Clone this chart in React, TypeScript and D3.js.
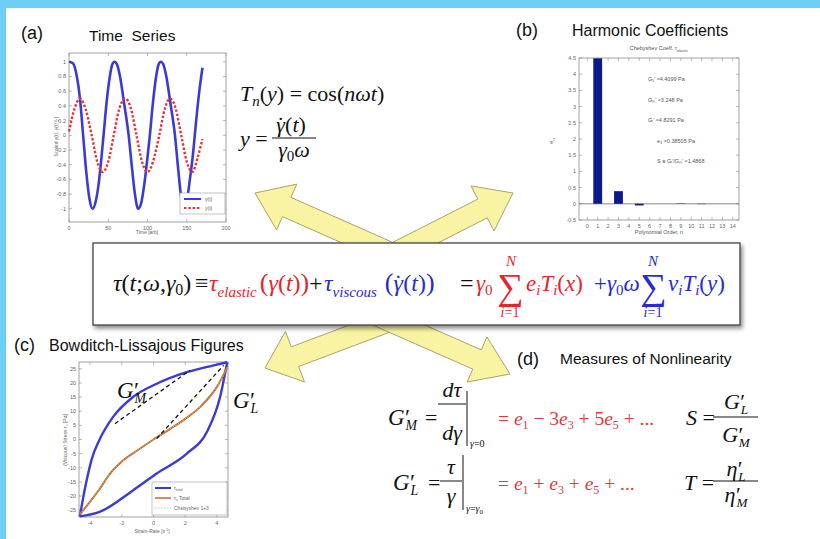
import React from "react";
import * as d3 from "d3";

const W = 820;
const H = 539;
const SANS = "Liberation Sans, Arial, sans-serif";
const SERIF = "Liberation Serif, Times New Roman, serif";
const BLUE = "#3b3bd4";
const RED = "#e0393b";
const ORANGE = "#cc6428";
const FRED = "#e4262c";
const FBLUE = "#2a2ad0";

// (a) time series
const timeTicks = [0, 50, 100, 150, 200];
const scaledTicks = [-1, -0.8, -0.6, -0.4, -0.2, 0, 0.2, 0.4, 0.6, 0.8, 1];
const gammaSeries: [number, number][] = [
  [0, 1], [5, 0.98], [10, 0.8], [14, 0.5], [18, 0], [22, -0.5], [26, -0.86], [30, -1],
  [34, -0.9], [38, -0.64], [41, -0.34], [44, 0], [48, 0.46], [52, 0.8], [55, 0.96], [58, 1],
  [61, 0.97], [65, 0.8], [70, 0.45], [76, 0], [80, -0.42], [84, -0.8], [88, -1], [92, -0.92],
  [96, -0.66], [100, -0.3], [103, 0], [107, 0.45], [111, 0.8], [114, 0.96], [117, 1], [120, 0.97],
  [124, 0.8], [129, 0.45], [135, 0], [139, -0.45], [143, -0.85], [146, -1], [150, -0.9],
  [154, -0.6], [158, -0.25], [162, 0.2], [166, 0.6], [170, 0.92],
];
const ySeries: [number, number][] = [
  [0, 0.05], [7, 0.36], [14, 0.5], [21, 0.36], [29, 0], [36, -0.36], [43, -0.5], [50, -0.36],
  [57, 0], [64, 0.36], [72, 0.5], [79, 0.36], [86, 0], [93, -0.36], [100, -0.5], [107, -0.36],
  [115, 0], [122, 0.36], [129, 0.5], [136, 0.36], [143, 0], [150, -0.36], [157, -0.5],
  [164, -0.3], [170, -0.05],
];

// (b) harmonic coefficients
const orders = [0, 1, 2, 3, 4, 5, 6, 7, 8, 9, 10, 11, 12, 13, 14];
const coeffs = [0, 4.49, 0, 0.39, 0, -0.05, 0, 0, 0, 0.01, 0, -0.01, 0, 0, 0];
const coeffTicks = [-0.5, 0, 0.5, 1, 1.5, 2, 2.5, 3, 3.5, 4, 4.5];
const coeffNotes = ["G\u2081\u2032 \u22484.4099 Pa", "G\u2098\u2032 \u22483.248 Pa", "G\u2097\u2032 \u22484.8291 Pa", "e\u2083 \u22480.38505 Pa", "S \u2261 G\u2097\u2032/G\u2098\u2032 \u22481.4868"];

// (c) Lissajous
const rateTicks = [-4, -2, 0, 2, 4];
const stressTicks = [-25, -20, -15, -10, -5, 0, 5, 10, 15, 20, 25];
const loopUpper: [number, number][] = [
  [-4.65, -27.2], [-4.45, -21], [-4.2, -14], [-3.9, -7], [-3.4, 0], [-2.55, 8], [-1.3, 15],
  [0.2, 19.7], [2.1, 23.8], [3.8, 26.2], [4.65, 27.3],
];
const loopLower: [number, number][] = [
  [-4.65, -27.2], [-3.4, -25.6], [-1.3, -18], [0.2, -12], [2.1, -5], [3.4, 3], [4.2, 15], [4.65, 27.3],
];
const totalCurve: [number, number][] = [
  [-4.65, -26.5], [-4, -22], [-3.4, -17.5], [-2.8, -12.5], [-2, -7.8], [-1, -3.8], [0, 0],
  [1, 3.6], [2, 7.3], [3, 11.8], [4, 18.6], [4.65, 25.5],
];
const gmTangent: [number, number][] = [[-2.43, 5.6], [2.31, 24.5]];
const glSecant: [number, number][] = [[0.2, 0.3], [4.42, 26.2]];

const fmt = (v: number) => String(v);

function Frame({ x, y, xTicks, yTicks, fs = 6 }: any) {
  const [x0, x1] = x.range();
  const [y0, y1] = y.range();
  const c = "#8a8a8a";
  return (
    <g fontFamily={SANS} fontSize={fs} fill="#666">
      <rect x={x0} y={y1} width={x1 - x0} height={y0 - y1} fill="white" stroke={c} strokeWidth={0.8} />
      {xTicks.map((t: number) => (
        <g key={"x" + t}>
          <line x1={x(t)} x2={x(t)} y1={y0} y2={y0 - 3} stroke={c} strokeWidth={0.6} />
          <line x1={x(t)} x2={x(t)} y1={y1} y2={y1 + 3} stroke={c} strokeWidth={0.6} />
          <text x={x(t)} y={y0 + fs + 2} textAnchor="middle">{fmt(t)}</text>
        </g>
      ))}
      {yTicks.map((t: number) => (
        <g key={"y" + t}>
          <line x1={x0} x2={x0 + 3} y1={y(t)} y2={y(t)} stroke={c} strokeWidth={0.6} />
          <line x1={x1} x2={x1 - 3} y1={y(t)} y2={y(t)} stroke={c} strokeWidth={0.6} />
          <text x={x0 - 3} y={y(t) + fs * 0.35} textAnchor="end">{fmt(t)}</text>
        </g>
      ))}
    </g>
  );
}

function arrow(tip: [number, number], dir: [number, number], headLen: number, headHalf: number, shaftHalf: number, shaftLen: number) {
  const [tx, ty] = tip;
  const [dx, dy] = dir;
  const px = -dy, py = dx;
  const bx = tx + dx * headLen, by = ty + dy * headLen;
  const ex = bx + dx * shaftLen, ey = by + dy * shaftLen;
  const pts = [
    [tx, ty],
    [bx + px * headHalf, by + py * headHalf],
    [bx + px * shaftHalf, by + py * shaftHalf],
    [ex + px * shaftHalf, ey + py * shaftHalf],
    [ex - px * shaftHalf, ey - py * shaftHalf],
    [bx - px * shaftHalf, by - py * shaftHalf],
    [bx - px * headHalf, by - py * headHalf],
  ];
  return "M" + pts.map((p) => p.join(",")).join("L") + "Z";
}

// primed symbol with subscript, e.g. G'_M, as one text
function GP({ x, y, base = "G", sub, size = 22, fill = "#111", anchor = "start" }: any) {
  return (
    <text x={x} y={y} fontFamily={SERIF} fontStyle="italic" fontSize={size} fill={fill} textAnchor={anchor}>
      {base}
      <tspan fontStyle="normal" dx={size * 0.02}>{"\u2032"}</tspan>
      <tspan fontSize={size * 0.6} dx={-size * 0.2} dy={size * 0.22}>{sub}</tspan>
    </text>
  );
}

// gamma with a dot above, inside a text flow
function GammaDot({ size }: { size: number }) {
  return (
    <>
      <tspan fontStyle="italic">γ</tspan>
      <tspan fontStyle="normal" dx={-size * 0.36}>{"\u02D9"}</tspan>
      <tspan dx={size * 0.04}>(</tspan>
    </>
  );
}

export default function App() {
  // (a)
  const ax = d3.scaleLinear().domain([0, 200]).range([69, 226]);
  const ay = d3.scaleLinear().domain([-1.18, 1.12]).range([222, 53]);
  const aLine = d3.line<[number, number]>().x((d) => ax(d[0])).y((d) => ay(d[1])).curve(d3.curveMonotoneX);

  // (b)
  const bx = d3.scaleLinear().domain([-0.8, 14.6]).range([579, 739]);
  const by = d3.scaleLinear().domain([-0.5, 4.5]).range([220, 58]);
  const bw = (bx(1) - bx(0)) * 0.85;

  // (c)
  const cx = d3.scaleLinear().domain([-4.7, 4.7]).range([79, 228]);
  const cy = d3.scaleLinear().domain([-27.4, 27.4]).range([517, 362]);
  const cLine = d3.line<[number, number]>().x((d) => cx(d[0])).y((d) => cy(d[1])).curve(d3.curveMonotoneX);
  const cStraight = d3.line<[number, number]>().x((d) => cx(d[0])).y((d) => cy(d[1]));

  const arrowFill = "#f8f4a4";
  const arrowStroke = "#a9a36a";

  return (
    <svg width={W} height={H} style={{ position: "absolute", left: 0, top: 0 }} xmlns="http://www.w3.org/2000/svg">
      <defs>
        <filter id="shadow" x="-5%" y="-20%" width="110%" height="150%">
          <feDropShadow dx="2" dy="3" stdDeviation="2" floodColor="#000" floodOpacity="0.45" />
        </filter>
      </defs>
      <rect width={W} height={H} fill="#6dcff6" />
      <rect x={6} y={8} width={W - 6} height={H - 8} fill="white" />

      {/* arrows */}
      <g fill={arrowFill} stroke={arrowStroke} strokeWidth={1}>
        <path d={arrow([255, 193], [0.916, 0.405], 34.6, 25, 10.5, 110)} />
        <path d={arrow([513, 193], [-0.891, 0.453], 34.2, 25.3, 10.5, 110)} />
        <path d={arrow([265, 368], [0.936, -0.353], 32, 27, 10.5, 110)} />
        <path d={arrow([510, 374], [-0.916, -0.403], 36, 24.6, 10.5, 110)} />
      </g>

      {/* (a) */}
      <text x={21} y={39} fontFamily={SANS} fontSize={18} fill="#111">(a)</text>
      <text x={89} y={41} fontFamily={SANS} fontSize={15.5} fill="#111" style={{ whiteSpace: "pre" }}>Time  Series</text>
      <Frame x={ax} y={ay} xTicks={timeTicks} yTicks={scaledTicks} fs={5.5} />
      <path d={aLine(gammaSeries) || ""} fill="none" stroke={BLUE} strokeWidth={2.6} />
      <path d={aLine(ySeries) || ""} fill="none" stroke={RED} strokeWidth={2.4} strokeDasharray="2.5,1.8" />
      <g fontFamily={SANS} fontSize={5} fill="#666">
        <rect x={180} y={193} width={45} height={21} fill="white" stroke="#999" strokeWidth={0.6} />
        <line x1={184} x2={201} y1={199} y2={199} stroke={BLUE} strokeWidth={2} />
        <line x1={184} x2={201} y1={208} y2={208} stroke={RED} strokeWidth={2} strokeDasharray="2.5,1.8" />
        <text x={205} y={201}>γ(t)</text>
        <text x={205} y={210}>y(t)</text>
        <text x={147} y={234} textAnchor="middle">Time [arb]</text>
        <text transform="translate(58,137) rotate(-90)" textAnchor="middle">Scaled γ(t), y(t) [-]</text>
      </g>

      {/* (a) formulas */}
      <g fontFamily={SERIF} fontSize={22} fill="#111">
        <text x={240} y={101}>
          <tspan fontStyle="italic">T</tspan>
          <tspan fontStyle="italic" fontSize={15} dy={5}>n</tspan>
          <tspan dy={-5}>(</tspan>
          <tspan fontStyle="italic">y</tspan>
          <tspan>) = cos(</tspan>
          <tspan fontStyle="italic">nωt</tspan>
          <tspan>)</tspan>
        </text>
        <text x={240} y={146}>
          <tspan fontStyle="italic">y</tspan>
          <tspan> =</tspan>
        </text>
        <text x={291} y={132} textAnchor="middle">
          <GammaDot size={22} />
          <tspan fontStyle="italic">t</tspan>
          <tspan>)</tspan>
        </text>
        <line x1={272} x2={316} y1={138} y2={138} stroke="#111" strokeWidth={1} />
        <text x={294} y={157} textAnchor="middle">
          <tspan fontStyle="italic">γ</tspan>
          <tspan fontSize={15} dy={4}>0</tspan>
          <tspan fontStyle="italic" dy={-4}>ω</tspan>
        </text>
      </g>

      {/* (b) */}
      <text x={516} y={36} fontFamily={SANS} fontSize={18} fill="#111">(b)</text>
      <text x={572} y={36} fontFamily={SANS} fontSize={16} fill="#111">Harmonic Coefficients</text>
      <Frame x={bx} y={by} xTicks={orders} yTicks={coeffTicks} fs={5.5} />
      <line x1={bx(-0.8)} x2={bx(14.6)} y1={by(0)} y2={by(0)} stroke="#555" strokeWidth={0.7} />
      {orders.map((n, i) => (
        <rect key={n} x={bx(n) - bw / 2} y={by(Math.max(0, coeffs[i]))} width={bw}
          height={Math.abs(by(coeffs[i]) - by(0))} fill="#0b1a8a" />
      ))}
      <g fontFamily={SANS} fontSize={5.5} fill="#555">
        <text x={659} y={50} textAnchor="middle">Chebyshev Coeff. τ<tspan fontSize={4} dy={1.5}>elastic</tspan></text>
        <text x={659} y={234} textAnchor="middle">Polynomial Order,  n</text>
        <text transform="translate(553,141) rotate(-90)" textAnchor="middle">e<tspan fontSize={4} dy={1.5}>n</tspan></text>
        {coeffNotes.map((s, i) => (
          <text key={i} x={i < 3 ? 648 : 657} y={81 + i * 20.5}>{s}</text>
        ))}
      </g>

      {/* central formula box */}
      <rect x={93} y={243} width={647} height={82} fill="white" stroke="#444" strokeWidth={1.3} filter="url(#shadow)" />
      <text y={291} fontFamily={SERIF} fontSize={24} fill="#111">
        <tspan x={113} fontStyle="italic">τ</tspan>
        <tspan>(</tspan>
        <tspan fontStyle="italic">t</tspan>
        <tspan>;</tspan>
        <tspan fontStyle="italic">ω</tspan>
        <tspan>,</tspan>
        <tspan fontStyle="italic">γ</tspan>
        <tspan fontSize={16} dy={4}>0</tspan>
        <tspan dy={-4}>)</tspan>
        <tspan x={195}>≡</tspan>
        <tspan x={209} fill={FRED} fontStyle="italic">τ</tspan>
        <tspan fill={FRED} fontStyle="italic" fontSize={15} dy={6}>elastic</tspan>
        <tspan fill={FRED} dy={-6} dx={3} fontSize={26}>(</tspan>
        <tspan fill={FRED} fontStyle="italic">γ</tspan>
        <tspan fill={FRED}>(</tspan>
        <tspan fill={FRED} fontStyle="italic">t</tspan>
        <tspan fill={FRED}>)</tspan>
        <tspan fill={FRED} fontSize={26}>)</tspan>
        <tspan x={309}>+</tspan>
        <tspan x={324} fill={FBLUE} fontStyle="italic">τ</tspan>
        <tspan fill={FBLUE} fontStyle="italic" fontSize={15} dy={6}>viscous</tspan>
        <tspan fill={FBLUE} dy={-6} dx={8} fontSize={26}>(</tspan>
        <tspan fill={FBLUE} fontStyle="italic">γ</tspan>
        <tspan fill={FBLUE} dx={-8.6}>{"\u02D9"}</tspan>
        <tspan fill={FBLUE} dx={1}>(</tspan>
        <tspan fill={FBLUE} fontStyle="italic">t</tspan>
        <tspan fill={FBLUE}>)</tspan>
        <tspan fill={FBLUE} fontSize={26}>)</tspan>
        <tspan x={460}>=</tspan>
      </text>
      <g fontFamily={SERIF} fontSize={23}>
        <g fill={FRED}>
          <text x={476} y={291}>
            <tspan fontStyle="italic">γ</tspan>
            <tspan fontSize={15} dy={4}>0</tspan>
          </text>
          <text x={497} y={299} fontSize={37}>∑</text>
          <text x={511} y={266} fontSize={15} fontStyle="italic" textAnchor="middle">N</text>
          <text x={510} y={317} fontSize={14} textAnchor="middle"><tspan fontStyle="italic">i</tspan>=1</text>
          <text x={526} y={291}>
            <tspan fontStyle="italic">e</tspan>
            <tspan fontStyle="italic" fontSize={15} dy={4}>i</tspan>
            <tspan fontStyle="italic" dy={-4}>T</tspan>
            <tspan fontStyle="italic" fontSize={15} dy={4}>i</tspan>
            <tspan dy={-4}>(</tspan>
            <tspan fontStyle="italic">x</tspan>
            <tspan>)</tspan>
          </text>
        </g>
        <g fill={FBLUE}>
          <text x={594} y={291}>+</text>
          <text x={607} y={291}>
            <tspan fontStyle="italic">γ</tspan>
            <tspan fontSize={15} dy={4}>0</tspan>
            <tspan fontStyle="italic" dy={-4}>ω</tspan>
          </text>
          <text x={640} y={299} fontSize={37}>∑</text>
          <text x={653} y={266} fontSize={15} fontStyle="italic" textAnchor="middle">N</text>
          <text x={653} y={317} fontSize={14} textAnchor="middle"><tspan fontStyle="italic">i</tspan>=1</text>
          <text x={668} y={291}>
            <tspan fontStyle="italic">v</tspan>
            <tspan fontStyle="italic" fontSize={15} dy={4}>i</tspan>
            <tspan fontStyle="italic" dy={-4}>T</tspan>
            <tspan fontStyle="italic" fontSize={15} dy={4}>i</tspan>
            <tspan dy={-4}>(</tspan>
            <tspan fontStyle="italic">y</tspan>
            <tspan>)</tspan>
          </text>
        </g>
      </g>

      {/* (c) */}
      <text x={14} y={351} fontFamily={SANS} fontSize={18} fill="#111">(c)</text>
      <text x={49} y={351} fontFamily={SANS} fontSize={16} fill="#111">Bowditch-Lissajous Figures</text>
      <Frame x={cx} y={cy} xTicks={rateTicks} yTicks={stressTicks} fs={5.5} />
      <path d={cLine(loopUpper) || ""} fill="none" stroke={BLUE} strokeWidth={2.4} />
      <path d={cLine(loopLower) || ""} fill="none" stroke={BLUE} strokeWidth={2.4} />
      <path d={cLine(totalCurve) || ""} fill="none" stroke={ORANGE} strokeWidth={2} />
      <path d={cLine(totalCurve) || ""} fill="none" stroke="#9fe39f" strokeWidth={0.8} strokeDasharray="1.5,1.5" />
      <path d={cStraight(gmTangent) || ""} fill="none" stroke="#111" strokeWidth={1.3} strokeDasharray="4,3" />
      <path d={cStraight(glSecant) || ""} fill="none" stroke="#111" strokeWidth={1.3} strokeDasharray="4,3" />
      <GP x={117} y={398} sub="M" size={23} />
      <GP x={233} y={408} sub="L" size={23} />
      <g fontFamily={SANS} fontSize={5} fill="#666">
        <rect x={152} y={482} width={75} height={33} fill="white" stroke="#999" strokeWidth={0.6} />
        <line x1={155} x2={171} y1={488} y2={488} stroke={BLUE} strokeWidth={2} />
        <line x1={155} x2={171} y1={498} y2={498} stroke={ORANGE} strokeWidth={1.5} />
        <line x1={155} x2={171} y1={508} y2={508} stroke="#9fe39f" strokeWidth={1} strokeDasharray="1.5,1.5" />
        <text x={174} y={490}>τ<tspan fontSize={3.5} dy={1.2}>total</tspan></text>
        <text x={174} y={500}>τ<tspan fontSize={3.5} dy={1.2}>v</tspan><tspan dy={-1.2}> Total</tspan></text>
        <text x={174} y={510}>Chebyshev 1+3</text>
        <text x={152} y={533} textAnchor="middle">Strain-Rate  [s<tspan fontSize={3.5} dy={-2}>-1</tspan><tspan dy={2}>]</tspan></text>
        <text transform="translate(67,440) rotate(-90)" textAnchor="middle">(Viscous) Stress  τ<tspan fontSize={3.5} dy={1.2}>v</tspan><tspan dy={-1.2}> [Pa]</tspan></text>
      </g>

      {/* (d) */}
      <text x={517} y={365} fontFamily={SANS} fontSize={18} fill="#111">(d)</text>
      <text x={560} y={364} fontFamily={SANS} fontSize={15.5} fill="#111">Measures of Nonlinearity</text>
      <g fontFamily={SERIF} fontSize={22} fill="#111">
        <GP x={388} y={425} sub="M" size={23} />
        <text x={425} y={425}>=</text>
        <text x={452} y={397} textAnchor="middle" fontStyle="italic">dτ</text>
        <line x1={438} x2={466} y1={404} y2={404} stroke="#111" strokeWidth={1} />
        <text x={452} y={440} textAnchor="middle" fontStyle="italic">dγ</text>
        <line x1={467} x2={467} y1={391} y2={446} stroke="#111" strokeWidth={1} />
        <text x={470} y={447} fontSize={10} fontStyle="italic">γ<tspan fontStyle="normal">=0</tspan></text>
        <text x={498} y={425} fill="#e03a3e" fontSize={19.5}>
          <tspan>= </tspan><tspan fontStyle="italic">e</tspan><tspan fontSize={12} dy={4}>1</tspan>
          <tspan dy={-4}> − 3</tspan><tspan fontStyle="italic">e</tspan><tspan fontSize={12} dy={4}>3</tspan>
          <tspan dy={-4}> + 5</tspan><tspan fontStyle="italic">e</tspan><tspan fontSize={12} dy={4}>5</tspan>
          <tspan dy={-4}> + ...</tspan>
        </text>
        <text x={686} y={425}><tspan fontStyle="italic">S</tspan> =</text>
        <GP x={736} y={409} sub="L" size={22} anchor="middle" />
        <line x1={713} x2={758} y1={417} y2={417} stroke="#111" strokeWidth={1} />
        <GP x={736} y={442} sub="M" size={22} anchor="middle" />

        <GP x={393} y={490} sub="L" size={23} />
        <text x={428} y={490}>=</text>
        <text x={451} y={474} textAnchor="middle" fontStyle="italic">τ</text>
        <line x1={440} x2={462} y1={481} y2={481} stroke="#111" strokeWidth={1} />
        <text x={451} y={503} textAnchor="middle" fontStyle="italic">γ</text>
        <line x1={463} x2={463} y1={455} y2={510} stroke="#111" strokeWidth={1} />
        <text x={466} y={512} fontSize={10} fontStyle="italic">γ<tspan fontStyle="normal">=</tspan>γ<tspan fontSize={7} fontStyle="normal" dy={2}>0</tspan></text>
        <text x={498} y={490} fill="#e03a3e" fontSize={19.5}>
          <tspan>= </tspan><tspan fontStyle="italic">e</tspan><tspan fontSize={12} dy={4}>1</tspan>
          <tspan dy={-4}> + </tspan><tspan fontStyle="italic">e</tspan><tspan fontSize={12} dy={4}>3</tspan>
          <tspan dy={-4}> + </tspan><tspan fontStyle="italic">e</tspan><tspan fontSize={12} dy={4}>5</tspan>
          <tspan dy={-4}> + ...</tspan>
        </text>
        <text x={684} y={490}><tspan fontStyle="italic">T</tspan> =</text>
        <GP x={736} y={476} base="η" sub="L" size={22} anchor="middle" />
        <line x1={713} x2={758} y1={481} y2={481} stroke="#111" strokeWidth={1} />
        <GP x={736} y={502} base="η" sub="M" size={22} anchor="middle" />
      </g>
    </svg>
  );
}
